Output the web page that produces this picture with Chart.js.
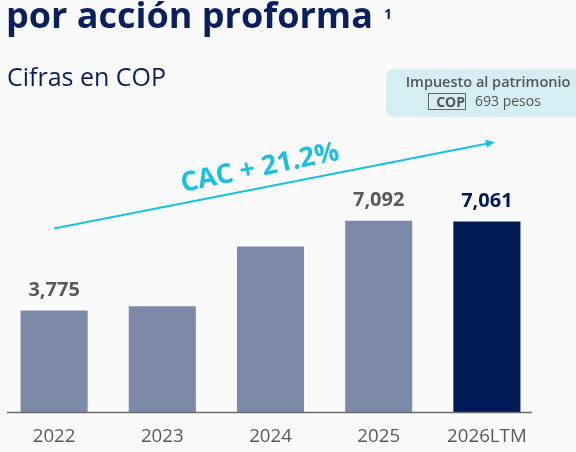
<!DOCTYPE html>
<html>
<head>
<meta charset="utf-8">
<script src="https://cdn.jsdelivr.net/npm/chart.js@4.4.0/dist/chart.umd.min.js"></script>
<style>
  html, body { margin: 0; padding: 0; background: #fafafa; }
  body { width: 576px; height: 452px; position: relative; overflow: hidden; font-family: "Open Sans", sans-serif; }
  #wrap { position: absolute; left: 0; top: 0; width: 576px; height: 467px; }
  .txt { position: absolute; white-space: nowrap; line-height: 1; }
  #titulo { left: 6px; top: -3px; font-size: 36px; font-weight: 700; color: #0b1f5c; }
  #nota { left: 384px; top: 7px; font-size: 14px; font-weight: 700; color: #0b1f5c; }
  #sub { left: 7px; top: 64px; font-size: 25px; color: #0b1f5c; }
  #caja { position: absolute; left: 386px; top: 69px; width: 210px; height: 48px; border-radius: 8px; background: #d5eef3; }
  #imp { left: 388px; top: 75px; width: 200px; text-align: center; font-size: 14.5px; font-weight: 600; color: #555; }
  #copbox { position: absolute; left: 428px; top: 93px; width: 36px; height: 15px; border: 1.3px solid #666; font-size: 14px; font-weight: 700; color: #555; line-height: 15px; text-align: right; }
  #pesos { left: 475px; top: 94px; font-size: 14px; color: #555; }
</style>
</head>
<body>
<div id="wrap"><canvas id="grafico"></canvas></div>
<div class="txt" id="titulo">por acción proforma</div>
<div class="txt" id="nota">1</div>
<div class="txt" id="sub">Cifras en COP</div>
<div id="caja"></div>
<div class="txt" id="imp">Impuesto al patrimonio</div>
<div id="copbox">COP</div>
<div class="txt" id="pesos">693 pesos</div>
<script>
const categorias = ['2022', '2023', '2024', '2025', '2026LTM'];
const valores = [3775, 3930, 6140, 7092, 7061];
const mostrarValor = [true, false, false, true, true];
const etiquetasValor = ['3,775', '', '', '7,092', '7,061'];
const coloresBarra = ['#7d89a8', '#7d89a8', '#7d89a8', '#7d89a8', '#001a57'];
const coloresEtiqueta = ['#5a5a5a', '#5a5a5a', '#5a5a5a', '#5a5a5a', '#001a57'];
const cacTexto = 'CAC + 21.2%';

const grafico = document.getElementById('grafico');

// etiquetas de valor, linea del eje y flecha de crecimiento
const extras = {
  id: 'extras',
  afterDatasetsDraw(chart) {
    const ctx = chart.ctx;
    const meta = chart.getDatasetMeta(0);
    const x = chart.scales.x;
    const y = chart.scales.y;

    ctx.save();
    // linea base
    ctx.strokeStyle = '#6b6b6b';
    ctx.lineWidth = 1.5;
    ctx.beginPath();
    ctx.moveTo(7, y.getPixelForValue(0));
    ctx.lineTo(532, y.getPixelForValue(0));
    ctx.stroke();

    // valores sobre las barras
    ctx.font = 'bold 20px "Open Sans"';
    ctx.textAlign = 'center';
    ctx.textBaseline = 'middle';
    meta.data.forEach(function (barra, i) {
      if (!mostrarValor[i]) return;
      ctx.fillStyle = coloresEtiqueta[i];
      ctx.fillText(etiquetasValor[i], barra.x, barra.y - 20);
    });

    // flecha CAC
    const x0 = x.getPixelForValue(0);
    const y0 = y.getPixelForValue(6800);
    const x1 = x.getPixelForValue(4) + 8;
    const y1 = y.getPixelForValue(10000);
    const ang = Math.atan2(y1 - y0, x1 - x0);
    ctx.strokeStyle = '#1cc0df';
    ctx.fillStyle = '#1cc0df';
    ctx.lineWidth = 2;
    ctx.beginPath();
    ctx.moveTo(x0, y0);
    ctx.lineTo(x1 - 6 * Math.cos(ang), y1 - 6 * Math.sin(ang));
    ctx.stroke();
    ctx.beginPath();
    ctx.moveTo(x1, y1);
    ctx.lineTo(x1 - 9 * Math.cos(ang) + 4 * Math.sin(ang), y1 - 9 * Math.sin(ang) - 4 * Math.cos(ang));
    ctx.lineTo(x1 - 9 * Math.cos(ang) - 4 * Math.sin(ang), y1 - 9 * Math.sin(ang) + 4 * Math.cos(ang));
    ctx.closePath();
    ctx.fill();

    const mx = (x0 + x1) / 2 - 11 * Math.cos(ang) + 19.5 * Math.sin(ang);
    const my = (y0 + y1) / 2 - 11 * Math.sin(ang) - 19.5 * Math.cos(ang);
    ctx.translate(mx, my);
    ctx.rotate(ang - 0.01);
    ctx.font = 'bold 27px "Open Sans"';
    ctx.fillText(cacTexto, 0, 0);
    ctx.restore();
  }
};

new Chart(grafico, {
  type: 'bar',
  data: {
    labels: categorias,
    datasets: [
      {
        data: valores,
        backgroundColor: coloresBarra,
        barPercentage: 0.62,
        categoryPercentage: 1
      }
    ]
  },
  options: {
    responsive: true,
    maintainAspectRatio: false,
    animation: false,
    layout: {
      padding: { left: 0, right: 35, top: 142, bottom: 6 }
    },
    plugins: {
      legend: { display: false },
      tooltip: { enabled: false }
    },
    scales: {
      x: {
        grid: { display: false, drawTicks: false },
        border: { display: false },
        ticks: {
          color: '#5a5a5a',
          padding: 13,
          font: { family: '"Open Sans"', size: 18.7 }
        }
      },
      y: {
        display: false,
        min: 0,
        max: 10000
      }
    }
  },
  plugins: [extras]
});
</script>
</body>
</html>
